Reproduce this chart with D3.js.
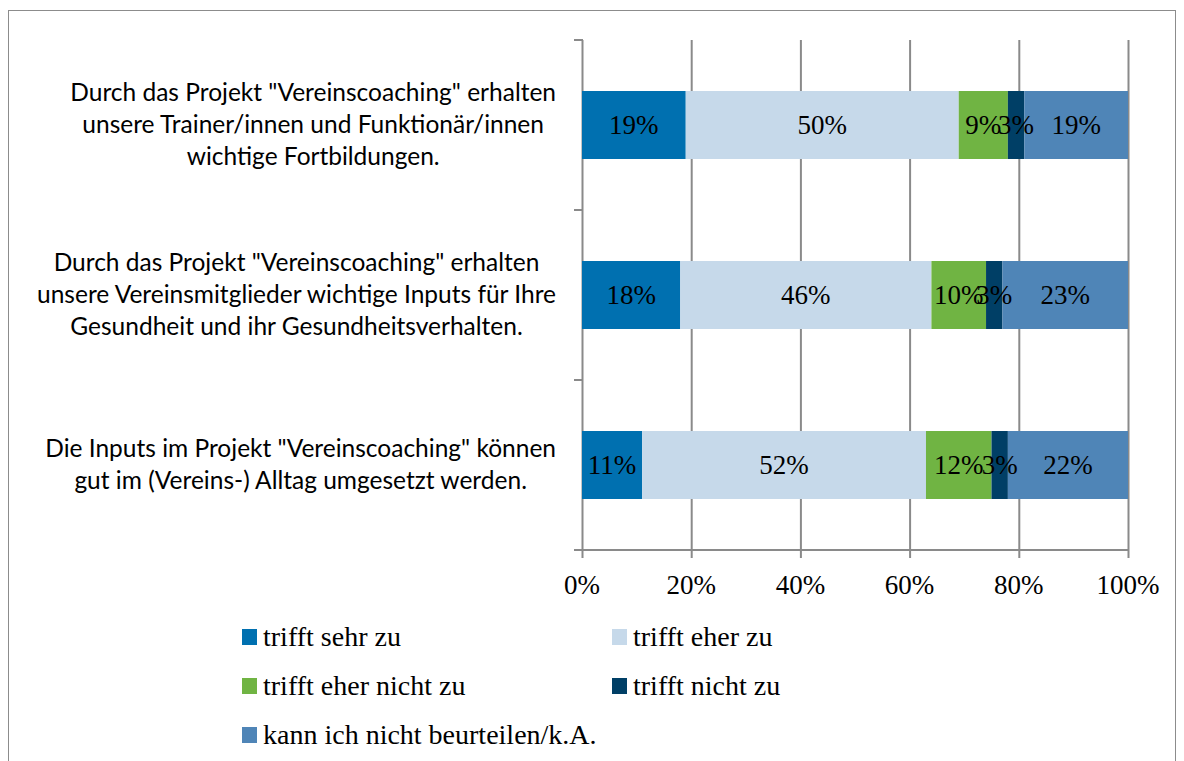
<!DOCTYPE html>
<html lang="de">
<head>
<meta charset="UTF-8">
<title>Vereinscoaching</title>
<script src="https://cdn.jsdelivr.net/npm/d3@7"></script>
<style type="text/css">
  body { margin: 0; background: white; }
  svg text { fill: #000; }
</style>
</head>
<body>
<div id="chart"></div>
<script>
// daten
var categories = [
  ["Durch das Projekt \"Vereinscoaching\" erhalten", "unsere Trainer/innen und Funktionär/innen", "wichtige Fortbildungen."],
  ["Durch das Projekt \"Vereinscoaching\" erhalten", "unsere Vereinsmitglieder wichtige Inputs für Ihre", "Gesundheit und ihr Gesundheitsverhalten."],
  ["Die Inputs im Projekt \"Vereinscoaching\" können", "gut im (Vereins-) Alltag umgesetzt werden."]
];
var seriesNames = ["trifft sehr zu", "trifft eher zu", "trifft eher nicht zu", "trifft nicht zu", "kann ich nicht beurteilen/k.A."];
var sehrZu      = [19, 18, 11];
var eherZu      = [50, 46, 52];
var eherNicht   = [9, 10, 12];
var nichtZu     = [3, 3, 3];
var keineAngabe = [19, 23, 22];
var tickLabels  = ["0%", "20%", "40%", "60%", "80%", "100%"];
var colors = ["#0070b0", "#c6d9ea", "#70b443", "#003f66", "#4f85b7"];

var series = [sehrZu, eherZu, eherNicht, nichtZu, keineAngabe];

var svg = d3.select("#chart").append("svg").attr("width", 1184).attr("height", 761);

// rahmen
svg.append("rect").attr("x", 8.5).attr("y", 10.5).attr("width", 1167).attr("height", 760)
  .attr("fill", "none").attr("stroke", "#8c8c8c").attr("stroke-width", 1);

var x = d3.scaleLinear().domain([0, 100]).range([582, 1128]);
var y = d3.scaleBand().domain([0, 1, 2]).range([40, 550]).paddingInner(0.6).paddingOuter(0.3);

// gitter
svg.selectAll("line.grid").data(d3.range(0, 101, 20)).enter().append("line")
  .attr("x1", function(d){ return x(d) + 0.5; }).attr("x2", function(d){ return x(d) + 0.5; })
  .attr("y1", 40).attr("y2", 558)
  .attr("stroke", "#8a8a8a").attr("stroke-width", 2);

// y-achse ticks
svg.selectAll("line.ytick").data([40, 210, 380, 550]).enter().append("line")
  .attr("x1", 574).attr("x2", 583).attr("y1", function(d){ return d; }).attr("y2", function(d){ return d; })
  .attr("stroke", "#8a8a8a").attr("stroke-width", 2);
svg.append("line").attr("x1", 574).attr("x2", 1129).attr("y1", 550).attr("y2", 550)
  .attr("stroke", "#8a8a8a").attr("stroke-width", 2);

// balken
var stacked = [];
categories.forEach(function(c, i){
  var acc = 0;
  series.forEach(function(s, j){
    stacked.push({cat: i, ser: j, x0: acc, x1: acc + s[i], v: s[i]});
    acc += s[i];
  });
});

svg.selectAll("rect.bar").data(stacked).enter().append("rect")
  .attr("x", function(d){ return x(d.x0); })
  .attr("width", function(d){ return x(d.x1) - x(d.x0); })
  .attr("y", function(d){ return y(d.cat); })
  .attr("height", y.bandwidth())
  .attr("fill", function(d){ return colors[d.ser]; });

svg.selectAll("text.val").data(stacked).enter().append("text")
  .attr("x", function(d){ return (x(d.x0) + x(d.x1)) / 2; })
  .attr("y", function(d){ return y(d.cat) + y.bandwidth() / 2 + 9; })
  .attr("text-anchor", "middle")
  .style("font-family", "'Liberation Serif', serif").style("font-size", "27px")
  .text(function(d){ return d.v + "%"; });

// x-achse beschriftung
svg.selectAll("text.xt").data(tickLabels).enter().append("text")
  .attr("x", function(d, i){ return x(i * 20); })
  .attr("y", 594)
  .attr("text-anchor", "middle")
  .style("font-family", "'Liberation Serif', serif").style("font-size", "27px")
  .text(function(d){ return d; });

// kategorien: block rechtsbündig, zeilen zentriert
categories.forEach(function(lines, i){
  var cy = y(i) + y.bandwidth() / 2;
  var top = cy - (lines.length - 1) * 32 / 2;
  var t = svg.selectAll(null).data(lines).enter().append("text")
    .attr("y", function(d, k){ return top + k * 32 + 8; })
    .attr("text-anchor", "middle")
    .style("font-family", "Lato, sans-serif").style("font-size", "24.5px")
    .text(function(d){ return d; });
  var maxW = d3.max(t.nodes(), function(n){ return n.getComputedTextLength(); });
  t.attr("x", 556 - maxW / 2);
});

// legende
var legPos = [[242, 637], [612, 637], [242, 686], [612, 686], [242, 735]];
seriesNames.forEach(function(n, i){
  var g = svg.append("g").attr("transform", "translate(" + legPos[i][0] + "," + legPos[i][1] + ")");
  g.append("rect").attr("x", 0).attr("y", -8).attr("width", 15).attr("height", 16).attr("fill", colors[i]);
  g.append("text").attr("x", 21).attr("y", 9)
    .style("font-family", "'Liberation Serif', serif").style("font-size", "28px")
    .text(n);
});
</script>
</body>
</html>
